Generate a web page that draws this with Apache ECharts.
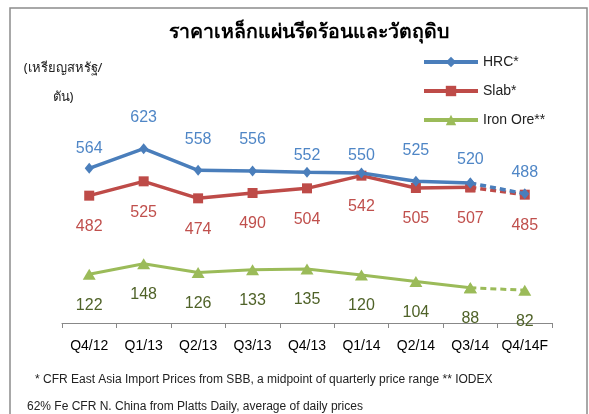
<!DOCTYPE html>
<html lang="th">
<head>
  <meta charset="UTF-8">
  <title>ราคาเหล็กแผ่นรีดร้อนและวัตถุดิบ</title>
  <script src="https://cdn.jsdelivr.net/npm/echarts@6/dist/echarts.min.js"></script>
  <style>
    html, body { margin: 0; padding: 0; background: #fff; }
    #chart { width: 589px; height: 414px; }
  </style>
</head>
<body>
  <div id="chart"></div>
  <script>
    // data (US$/ton)
    const quarters = ['Q4/12', 'Q1/13', 'Q2/13', 'Q3/13', 'Q4/13', 'Q1/14', 'Q2/14', 'Q3/14', 'Q4/14F'];
    const hrc = [564, 623, 558, 556, 552, 550, 525, 520, 488];
    const slab = [482, 525, 474, 490, 504, 542, 505, 507, 485];
    const ironOre = [122, 148, 126, 133, 135, 120, 104, 88, 82];

    // how far each HRC label sits above its point (they are not all at one height)
    const hrcLabelLift = [20, 31, 31, 31, 17, 17, 31, 23, 21];

    const FONT = 'Liberation Sans, Arial, sans-serif';
    const last = quarters.length - 1;

    // dashed part = last two points (forecast)
    const dashed = arr => arr.map((v, i) => (i >= last - 1 ? v : '-'));

    function makeSeries(name, values, opts) {
      const labelled = values.map((v, i) => ({
        value: v,
        label: { offset: [0, opts.labelDy(i)] }
      }));
      const common = {
        type: 'line',
        yAxisIndex: opts.axis,
        symbol: opts.symbol,
        symbolSize: opts.symbolSize,
        itemStyle: { color: opts.color },
        z: opts.z
      };
      const label = {
        show: true,
        position: 'inside',
        color: opts.labelColor,
        fontSize: 16,
        fontFamily: FONT,
        textBorderWidth: 0
      };
      return [
        Object.assign({}, common, {
          name: name,
          data: labelled.map((d, i) => (i < last ? d : '-')),
          lineStyle: { color: opts.color, width: opts.width },
          label: label
        }),
        Object.assign({}, common, {
          name: name + ' (f)',
          data: dashed(values).map((v, i) => (i === last ? labelled[i] : v)),
          lineStyle: { color: opts.color, width: opts.width, type: [6, 4] },
          label: Object.assign({}, label, {
            formatter: p => (p.dataIndex === last ? p.value : '')
          })
        })
      ];
    }

    const series = [].concat(
      makeSeries('HRC*', hrc, {
        axis: 0, symbol: 'diamond', symbolSize: [9, 11], color: '#4A7EBB',
        labelColor: '#4F86C6', width: 3.5, z: 3, labelDy: i => -hrcLabelLift[i]
      }),
      makeSeries('Slab*', slab, {
        axis: 0, symbol: 'rect', symbolSize: 10, color: '#BE4B48',
        labelColor: '#C0504D', width: 3.5, z: 2, labelDy: () => 31
      }),
      makeSeries('Iron Ore**', ironOre, {
        axis: 1, symbol: 'triangle', symbolSize: [13, 11], color: '#9BBB59',
        labelColor: '#4F6228', width: 3, z: 1, labelDy: () => 31
      })
    );

    const option = {
      animation: false,
      backgroundColor: '#fff',
      textStyle: { fontFamily: FONT },
      title: {
        text: 'ราคาเหล็กแผ่นรีดร้อนและวัตถุดิบ',
        left: 304,
        textAlign: 'center',
        top: 17,
        textStyle: { fontSize: 19.5, fontWeight: 'bold', color: '#000', fontFamily: 'Noto Sans, sans-serif' }
      },
      legend: {
        data: ['HRC*', 'Slab*', 'Iron Ore**'],
        orient: 'vertical',
        left: 417,
        top: 50,
        itemWidth: 54,
        itemHeight: 13,
        itemGap: 15,
        lineStyle: { width: 4 },
        textStyle: { fontSize: 14, color: '#222', fontFamily: FONT }
      },
      grid: { left: 62, right: 37, top: 123, bottom: 91 },
      xAxis: {
        type: 'category',
        data: quarters,
        boundaryGap: true,
        axisLine: { lineStyle: { color: '#888', width: 1 } },
        axisTick: { show: true, interval: 0, length: 5, lineStyle: { color: '#888' } },
        axisLabel: { interval: 0, color: '#000', fontSize: 14, margin: 16, fontFamily: FONT }
      },
      yAxis: [
        { type: 'value', min: 100, max: 700, show: false },
        { type: 'value', min: 0, max: 500, show: false }
      ],
      graphic: [
        {
          type: 'rect',
          shape: { x: 10, y: 8, width: 577, height: 420 },
          style: { fill: 'none', stroke: '#8C8C8C', lineWidth: 1.5 },
          silent: true
        },
        {
          type: 'text', x: 63, y: 68,
          style: { text: '(เหรียญสหรัฐ/', align: 'center', verticalAlign: 'middle', fontSize: 13, fill: '#222', fontFamily: 'Noto Sans, sans-serif' }
        },
        {
          type: 'text', x: 63, y: 97,
          style: { text: 'ตัน)', align: 'center', verticalAlign: 'middle', fontSize: 13, fill: '#222', fontFamily: 'Noto Sans, sans-serif' }
        },
        {
          type: 'text', x: 35, y: 380,
          style: { text: '* CFR East Asia Import Prices from SBB, a midpoint of quarterly price range ** IODEX', verticalAlign: 'middle', fontSize: 12, fill: '#222', fontFamily: FONT }
        },
        {
          type: 'text', x: 27, y: 407,
          style: { text: '62% Fe CFR N. China from Platts Daily, average of daily prices', verticalAlign: 'middle', fontSize: 12, fill: '#222', fontFamily: FONT }
        }
      ],
      series: series
    };

    echarts.init(document.getElementById('chart')).setOption(option);
  </script>
</body>
</html>
